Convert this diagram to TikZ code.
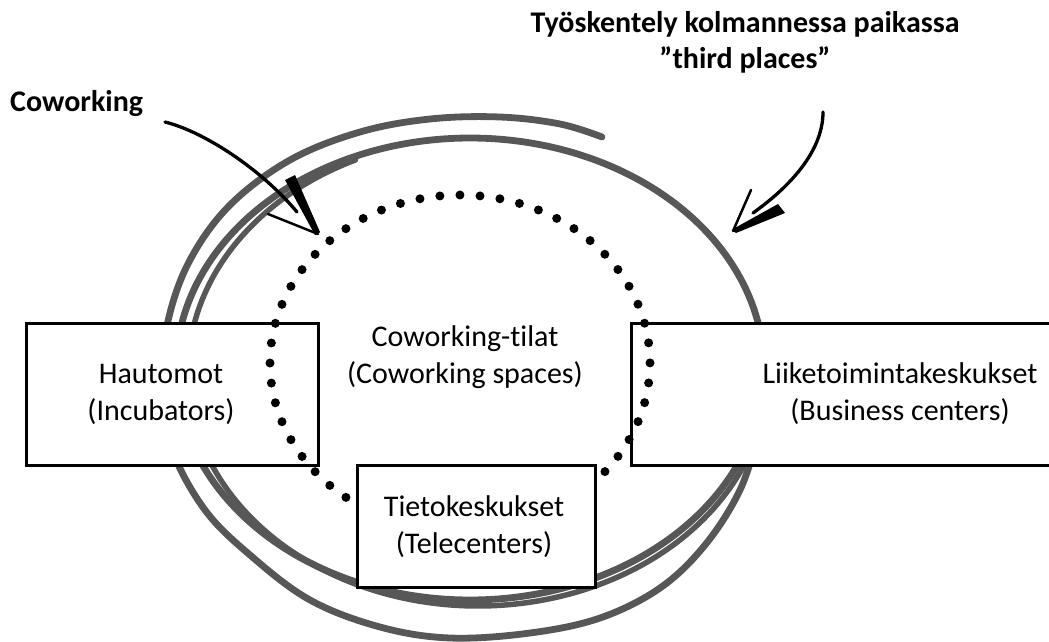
\documentclass[tikz,border=0pt]{standalone}
\usepackage{fontspec}
\setmainfont{Carlito}[RawFeature={-liga}]
\definecolor{penGray}{HTML}{575757}
\begin{document}
\begin{tikzpicture}[x=1pt,y=-1pt,
  pen/.style={draw=penGray, line width=6.8pt, line cap=round, line join=round},
  box/.style={draw=black, line width=3pt, fill=white, inner sep=0pt},
  txt/.style={font=\fontsize{30}{37}\selectfont, align=center, inner sep=0pt},
  lbl/.style={font=\fontsize{30}{36}\selectfont\bfseries, align=center, inner sep=0pt},
  dots/.style={line width=9pt, line cap=round, dash pattern=on 0pt off 20.1pt},
  shaft/.style={line width=3.3pt, line cap=round},
  barb/.style={line width=2.5pt, line cap=round}]
\useasboundingbox (0,0) rectangle (1049,642);
\clip (0,0) rectangle (1049,642);

% hand-drawn ring of several pen strokes
\draw[pen] plot[domain=0:360, samples=145, smooth] ({470+294*cos(\x)},{369+231*sin(\x)});
\draw[pen] plot[smooth, tension=0.6] coordinates {(602,137) (560,124) (500,117) (430,119) (360,132) (290,160) (230,205) (190,260) (168,321) (160,390) (172,450) (205,510) (250,555) (310,600) (380,627) (450,638) (530,633) (600,618) (660,588) (705,545) (740,490) (760,430)};
\draw[pen, line width=5.5pt] plot[domain=-340:-115, samples=100, smooth] ({478+290*cos(\x)},{372+234*sin(\x)});

% side boxes
\node[box, minimum width=292pt, minimum height=142pt] (hau) at (172,394) {};
\node[box, minimum width=538pt, minimum height=142pt] (liike) at (900,394) {};

% dotted boundary of the coworking spaces
\draw[dots] plot[domain=90:450, samples=181, smooth] ({460+190*cos(\x)},{363+168*sin(\x)});

% bottom box
\node[box, minimum width=238pt, minimum height=122pt] (tieto) at (476,526) {};

% texts
\node[txt] (hauT) at (161,394) {Hautomot\\(Incubators)};
\node[txt] (cwT) at (465,357) {Coworking-tilat\\(Coworking spaces)};
\node[txt] (liikeT) at (900,394) {Liiketoimintakeskukset\\(Business centers)};
\node[txt] (tietoT) at (474,527) {Tietokeskukset\\(Telecenters)};
\node[lbl, anchor=base west] (cwL) at (10,111) {Coworking};
\node[lbl] (tpL) at (745,42) {Työskentely kolmannessa paikassa\\”third places”};

% arrow from the Coworking label
\coordinate (cwTail) at (165,122);
\coordinate (cwEnd) at (297,212);
\coordinate (cwTip) at (318,234);
\draw[shaft] (cwTail) .. controls (205,132) and (262,170) .. (cwEnd);
\fill (285,180) -- (295,175) -- (320,232) -- (cwTip) -- (315,235) -- cycle;
\draw[barb] (268,214) -- (cwTip);

% arrow from the third places label
\coordinate (tpTail) at (823,112);
\coordinate (tpEnd) at (753,213);
\coordinate (tpTip) at (733,231);
\draw[shaft] (tpTail) .. controls (823,148) and (795,183) .. (tpEnd);
\draw[barb] (751,190) -- (tpTip);
\fill (778,204) -- (785,213) -- (736,233) -- (tpTip) -- (733,229) -- cycle;
\end{tikzpicture}
\end{document}
